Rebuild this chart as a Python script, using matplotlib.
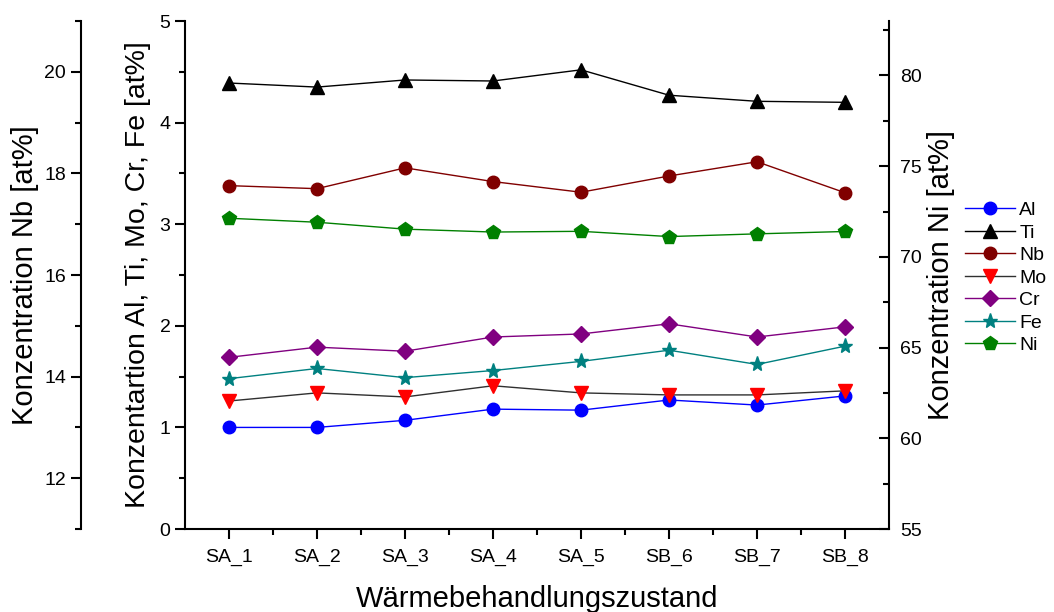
import matplotlib
matplotlib.use('Agg')
import matplotlib.pyplot as plt
from matplotlib.ticker import MultipleLocator, FixedLocator
import numpy as np

plt.rcParams['font.family'] = ['Liberation Sans', 'DejaVu Sans']

# Daten
zustaende = ['SA_1', 'SA_2', 'SA_3', 'SA_4', 'SA_5', 'SB_6', 'SB_7', 'SB_8']
al = [1.00, 1.00, 1.07, 1.18, 1.17, 1.27, 1.22, 1.31]
ti = [4.39, 4.35, 4.42, 4.41, 4.52, 4.27, 4.21, 4.20]
mo = [1.26, 1.34, 1.30, 1.41, 1.34, 1.32, 1.32, 1.36]
cr = [1.69, 1.79, 1.75, 1.89, 1.92, 2.02, 1.89, 1.99]
fe = [1.48, 1.58, 1.49, 1.56, 1.65, 1.76, 1.62, 1.80]
nb = [17.76, 17.70, 18.11, 17.84, 17.63, 17.95, 18.23, 17.62]
ni = [72.13, 71.91, 71.53, 71.37, 71.41, 71.12, 71.27, 71.40]

x = np.arange(1, len(zustaende) + 1)

fig = plt.figure(figsize=(10.54, 6.12), dpi=100, facecolor='white')
ax = fig.add_axes([0.1755, 0.1356, 0.668, 0.830])
ax_nb = ax.twinx()
ax_ni = ax.twinx()

lw = 1.0
handles = []
handles += ax.plot(x, al, color='#0000FF', lw=lw, marker='o', ms=9, label='Al')
handles += ax.plot(x, ti, color='#000000', lw=lw, marker='^', ms=10, label='Ti')
handles += ax_nb.plot(x, nb, color='#800000', lw=lw, marker='o', ms=9, label='Nb')
handles += ax.plot(x, mo, color='#303030', lw=lw, marker='v', ms=10, mfc='#FF0000', mec='#FF0000', label='Mo')
handles += ax.plot(x, cr, color='#800080', lw=lw, marker='D', ms=8, label='Cr')
handles += ax.plot(x, fe, color='#008080', lw=lw, marker='*', ms=11, label='Fe')
handles += ax_ni.plot(x, ni, color='#008000', lw=lw, marker='p', ms=10, label='Ni')

# Mittlere Achse (Al, Ti, Mo, Cr, Fe)
ax.set_xlim(0.5, 8.5)
ax.set_ylim(0, 5)
ax.set_xticks(x)
ax.set_xticklabels(zustaende)
ax.xaxis.set_minor_locator(FixedLocator(x[:-1] + 0.5))
ax.yaxis.set_major_locator(MultipleLocator(1))
ax.yaxis.set_minor_locator(MultipleLocator(0.5))
ax.spines['top'].set_visible(False)
ax.spines['right'].set_visible(False)
ax.set_xlabel('Wärmebehandlungszustand', fontsize=21, labelpad=14)
ax.set_ylabel('Konzentartion Al, Ti, Mo, Cr, Fe [at%]', fontsize=20.5, labelpad=6)

# Nb-Achse links außen
ax_nb.set_ylim(11, 21)
ax_nb.yaxis.set_label_position('left')
ax_nb.yaxis.set_ticks_position('left')
ax_nb.spines['left'].set_position(('axes', -0.148))
for s in ['top', 'right', 'bottom']:
    ax_nb.spines[s].set_visible(False)
ax_nb.yaxis.set_major_locator(FixedLocator([12, 14, 16, 18, 20]))
ax_nb.yaxis.set_minor_locator(FixedLocator([11, 13, 15, 17, 19, 21]))
ax_nb.set_ylabel('Konzentration Nb [at%]', fontsize=21, labelpad=4)

# Ni-Achse rechts
ax_ni.set_ylim(55, 83)
ax_ni.yaxis.set_major_locator(MultipleLocator(5))
ax_ni.yaxis.set_minor_locator(MultipleLocator(2.5))
for s in ['top', 'left', 'bottom']:
    ax_ni.spines[s].set_visible(False)
ax_ni.set_ylabel('Konzentration Ni [at%]', fontsize=21, labelpad=4)

for a in (ax, ax_nb, ax_ni):
    for s in a.spines.values():
        s.set_linewidth(1.5)
    a.tick_params(which='major', length=7, width=1.5, labelsize=14)
    a.tick_params(which='minor', length=4, width=1.5)
ax.tick_params(axis='both', which='both', direction='out')
ax_nb.tick_params(which='both', direction='out')
ax_ni.tick_params(which='both', direction='in', pad=8)
ax.tick_params(axis='x', pad=7)

fig.legend(handles=handles, loc='center left', bbox_to_anchor=(0.908, 0.546),
           frameon=False, fontsize=14, handlelength=2.6, labelspacing=0.25,
           handletextpad=0.2, borderaxespad=0)

fig.savefig('out.png', dpi=100, facecolor='white')
plt.close(fig)
